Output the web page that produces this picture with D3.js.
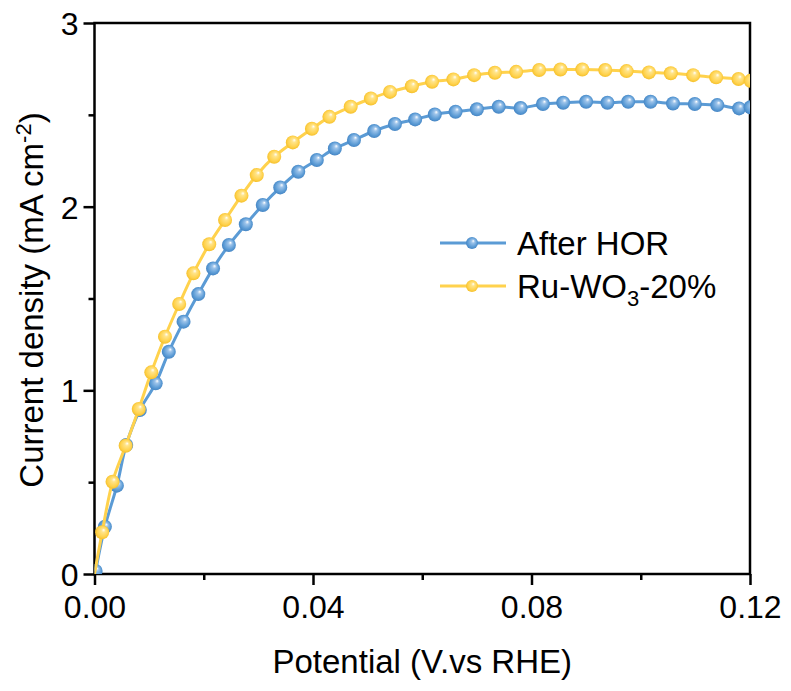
<!DOCTYPE html>
<html>
<head>
<meta charset="utf-8">
<script src="https://cdn.jsdelivr.net/npm/d3@7"></script>
<style>
  body { margin: 0; background: #fff; }
  text { font-family: Arial, "Liberation Sans", sans-serif; fill: #000; }
</style>
</head>
<body>
<svg id="chart" width="791" height="691"></svg>
<script>
// After HOR (blue)
const horX = [0.0002, 0.0019, 0.0041, 0.0058, 0.0083, 0.0112, 0.0136, 0.0163, 0.0190, 0.0217, 0.0246, 0.0277, 0.0308, 0.0340, 0.0373, 0.0407, 0.0440, 0.0475, 0.0512, 0.0550, 0.0587, 0.0623, 0.0661, 0.0700, 0.0740, 0.0780, 0.0821, 0.0858, 0.0900, 0.0939, 0.0977, 0.1018, 0.1059, 0.1099, 0.1140, 0.1180, 0.1201];
const horY = [0.017, 0.257, 0.481, 0.702, 0.893, 1.038, 1.21, 1.374, 1.524, 1.664, 1.791, 1.904, 2.009, 2.105, 2.19, 2.254, 2.317, 2.363, 2.412, 2.450, 2.475, 2.502, 2.517, 2.530, 2.544, 2.537, 2.559, 2.566, 2.571, 2.566, 2.571, 2.571, 2.562, 2.559, 2.553, 2.535, 2.541];

// Ru-WO3-20% (yellow), first sample at origin has no symbol
const ruX = [0, 0.0014, 0.0033, 0.0057, 0.0081, 0.0104, 0.0129, 0.0155, 0.0181, 0.0210, 0.0239, 0.0269, 0.0297, 0.0329, 0.0363, 0.0398, 0.0430, 0.0469, 0.0506, 0.0541, 0.0581, 0.0618, 0.0657, 0.0695, 0.0733, 0.0772, 0.0814, 0.0853, 0.0893, 0.0935, 0.0974, 0.1015, 0.1055, 0.1096, 0.1138, 0.1179, 0.1201];
const ruY = [0, 0.227, 0.502, 0.698, 0.898, 1.098, 1.292, 1.470, 1.637, 1.795, 1.927, 2.060, 2.172, 2.272, 2.350, 2.424, 2.489, 2.544, 2.589, 2.625, 2.656, 2.680, 2.693, 2.716, 2.729, 2.734, 2.744, 2.747, 2.747, 2.744, 2.738, 2.731, 2.726, 2.716, 2.704, 2.695, 2.685];

const xTicks = [0, 0.04, 0.08, 0.12];
const xMinor = [0.02, 0.06, 0.10];
const yTicks = [0, 1, 2, 3];
const yMinor = [0.5, 1.5, 2.5];

const margin = {top: 23, right: 41, bottom: 117, left: 94.5};
const width = 791 - margin.left - margin.right;
const height = 691 - margin.top - margin.bottom;

const svg = d3.select("#chart");
const g = svg.append("g").attr("transform", `translate(${margin.left},${margin.top})`);

const x = d3.scaleLinear().domain([0, 0.12]).range([0, width]);
const y = d3.scaleLinear().domain([0, 3]).range([height, 0]);

const defs = svg.append("defs");
defs.append("clipPath").attr("id", "clip")
  .append("rect").attr("width", width).attr("height", height);

function ball(id, light, base, dark) {
  const gr = defs.append("radialGradient").attr("id", id)
    .attr("cx", "50%").attr("cy", "50%").attr("r", "55%")
    .attr("fx", "62%").attr("fy", "32%");
  gr.append("stop").attr("offset", "0%").attr("stop-color", "#ffffff");
  gr.append("stop").attr("offset", "25%").attr("stop-color", light);
  gr.append("stop").attr("offset", "70%").attr("stop-color", base);
  gr.append("stop").attr("offset", "100%").attr("stop-color", dark);
}
ball("ballBlue", "#9cc3ea", "#5b9bd5", "#3f7fbf");
ball("ballYellow", "#ffe48a", "#ffd24d", "#f2bb22");

const series = [
  {name: "After HOR", xs: horX, ys: horY, color: "#5b9bd5", fill: "url(#ballBlue)", skipFirst: false},
  {name: "Ru-WO3-20%", xs: ruX, ys: ruY, color: "#ffd24d", fill: "url(#ballYellow)", skipFirst: true}
];

// axes
g.append("g").attr("transform", `translate(0,${height})`)
  .call(d3.axisBottom(x).tickValues(xTicks).tickSize(11).tickPadding(10).tickFormat(d3.format(".2f")));
g.append("g").attr("transform", `translate(0,${height})`)
  .call(d3.axisBottom(x).tickValues(xMinor).tickSize(6).tickFormat(""));
const yAxis = g.append("g")
  .call(d3.axisLeft(y).tickValues(yTicks).tickSize(11).tickPadding(5).tickFormat(d3.format("d")));
g.append("g")
  .call(d3.axisLeft(y).tickValues(yMinor).tickSize(6).tickFormat(""));

g.selectAll(".domain").remove();
g.selectAll(".tick line").attr("stroke", "#000").attr("stroke-width", 2.5);
g.selectAll(".tick text").style("font-size", "32px").attr("fill", "#000");
yAxis.selectAll(".tick text").attr("dy", "0.36em");

// frame
g.append("rect").attr("width", width).attr("height", height)
  .attr("fill", "none").attr("stroke", "#000").attr("stroke-width", 2.5);

// curves
const plot = g.append("g").attr("clip-path", "url(#clip)");
const line = d3.line().curve(d3.curveCatmullRom.alpha(0.5))
  .x(d => x(d[0])).y(d => y(d[1]));

series.forEach(s => {
  const pts = s.xs.map((v, i) => [v, s.ys[i]]);
  plot.append("path").datum(pts)
    .attr("fill", "none").attr("stroke", s.color).attr("stroke-width", 3)
    .attr("d", line);
  plot.append("g").selectAll("circle")
    .data(s.skipFirst ? pts.slice(1) : pts)
    .join("circle")
      .attr("cx", d => x(d[0])).attr("cy", d => y(d[1]))
      .attr("r", 7)
      .attr("fill", s.fill);
});

// axis titles
svg.append("text")
  .attr("x", margin.left + width / 2).attr("y", 673)
  .attr("text-anchor", "middle").style("font-size", "33px")
  .text("Potential (V.vs RHE)");

const yt = svg.append("text")
  .attr("transform", "translate(43,300) rotate(-90)")
  .attr("text-anchor", "middle").style("font-size", "33px");
yt.append("tspan").text("Current density (mA cm");
yt.append("tspan").attr("dy", "-12").style("font-size", "22px").text("-2");
yt.append("tspan").attr("dy", "12").text(")");

// legend
const legend = svg.append("g").attr("transform", "translate(440,243)");
series.forEach((s, i) => {
  const row = legend.append("g").attr("transform", `translate(0,${i * 43})`);
  row.append("line").attr("x1", 0).attr("x2", 66)
    .attr("stroke", s.color).attr("stroke-width", 3);
  row.append("circle").attr("cx", 32).attr("r", 6).attr("fill", s.fill);
  const t = row.append("text").attr("x", 77).attr("dy", "0.36em").style("font-size", "33px");
  if (s.name === "Ru-WO3-20%") {
    t.append("tspan").text("Ru-WO");
    t.append("tspan").attr("dy", "8").style("font-size", "22px").text("3");
    t.append("tspan").attr("dy", "-8").text("-20%");
  } else {
    t.text(s.name);
  }
});
</script>
</body>
</html>
